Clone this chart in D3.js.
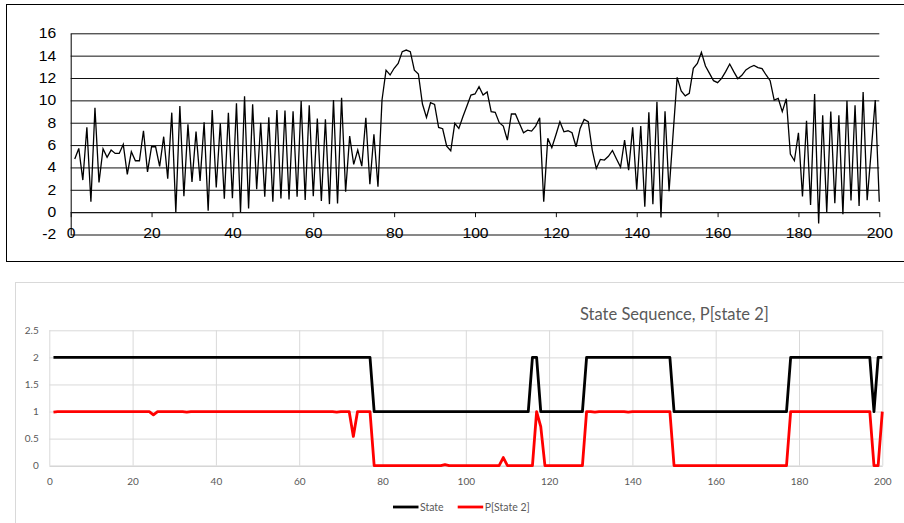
<!DOCTYPE html>
<html>
<head>
<meta charset="utf-8">
<script src="https://cdn.jsdelivr.net/npm/d3@7"></script>
<style>
  html, body { margin: 0; padding: 0; background: #fff; }
  svg { display: block; }
</style>
</head>
<body>
<svg id="chart" width="904" height="523"></svg>
<script>
// ---------- DATA ----------
const obsX = d3.range(1, 201); // time index 1..200
const observations = [
  4.75, 5.7, 2.87, 7.6, 0.93, 9.34, 2.66, 5.67, 4.9, 5.55,
  5.25, 5.25, 6.06, 3.37, 5.4, 4.6, 4.6, 7.28, 3.6, 5.85,
  5.85, 4.1, 6.75, 3.0, 8.9, 0.0, 9.5, 1.43, 7.85, 2.7,
  7.2, 2.8, 8.03, 0.12, 9.13, 2.2, 7.94, 1.2, 8.9, 1.25,
  9.73, 0.0, 10.36, 0.33, 9.64, 2.06, 8.0, 1.37, 8.48, 0.93,
  9.13, 1.22, 9.1, 1.13, 9.02, 1.37, 9.95, 1.1, 9.56, 1.43,
  8.37, 1.0, 8.3, 0.72, 10.03, 0.78, 10.24, 1.82, 6.8, 4.27,
  5.55, 4.12, 8.45, 2.5, 6.96, 2.27, 10.03, 12.7, 12.27, 12.87,
  13.31, 14.36, 14.5, 14.36, 12.7, 12.36, 9.67, 8.48, 9.79, 9.64,
  7.58, 7.46, 5.91, 5.49, 7.94, 7.49, 8.54, 9.49, 10.48, 10.57,
  11.22, 10.48, 10.75, 8.99, 8.93, 8.0, 7.7, 6.45, 8.78, 8.78,
  7.94, 7.1, 7.34, 7.25, 7.7, 8.45, 0.93, 6.6, 5.76, 6.9,
  8.09, 7.19, 7.28, 7.1, 5.85, 7.49, 8.3, 8.09, 5.55, 3.91,
  4.72, 4.66, 5.0, 5.52, 4.76, 4.03, 6.45, 3.76, 7.58, 2.0,
  7.7, 0.48, 8.94, 0.7, 9.88, -0.48, 9.02, 1.88, 7.0, 12.06,
  10.85, 10.4, 10.63, 12.87, 13.31, 14.3, 13.07, 12.42, 11.76, 11.58,
  11.97, 12.57, 13.25, 12.57, 11.94, 12.24, 12.72, 12.96, 13.13, 12.93,
  12.84, 12.27, 11.76, 10.03, 10.18, 8.99, 10.15, 5.19, 4.6, 7.1,
  1.4, 8.18, 0.65, 10.57, -1.01, 8.67, 0.0, 9.0, 0.8, 8.67,
  -0.18, 9.97, 1.04, 9.57, 0.55, 10.75, 1.07, 5.5, 10.03, 0.93
];
const topXTicks = [0, 20, 40, 60, 80, 100, 120, 140, 160, 180, 200];
const topYTicks = [-2, 0, 2, 4, 6, 8, 10, 12, 14, 16];
const topYLabels = ["-2", "0", "2", "4", "6", "8", "10", "12", "14", "16"];

const stateSeq = [
  2, 2, 2, 2, 2, 2, 2, 2, 2, 2,
  2, 2, 2, 2, 2, 2, 2, 2, 2, 2,
  2, 2, 2, 2, 2, 2, 2, 2, 2, 2,
  2, 2, 2, 2, 2, 2, 2, 2, 2, 2,
  2, 2, 2, 2, 2, 2, 2, 2, 2, 2,
  2, 2, 2, 2, 2, 2, 2, 2, 2, 2,
  2, 2, 2, 2, 2, 2, 2, 2, 2, 2,
  2, 2, 2, 2, 2, 2, 2, 1, 1, 1,
  1, 1, 1, 1, 1, 1, 1, 1, 1, 1,
  1, 1, 1, 1, 1, 1, 1, 1, 1, 1,
  1, 1, 1, 1, 1, 1, 1, 1, 1, 1,
  1, 1, 1, 1, 1, 2, 2, 1, 1, 1,
  1, 1, 1, 1, 1, 1, 1, 1, 2, 2,
  2, 2, 2, 2, 2, 2, 2, 2, 2, 2,
  2, 2, 2, 2, 2, 2, 2, 2, 2, 1,
  1, 1, 1, 1, 1, 1, 1, 1, 1, 1,
  1, 1, 1, 1, 1, 1, 1, 1, 1, 1,
  1, 1, 1, 1, 1, 1, 1, 2, 2, 2,
  2, 2, 2, 2, 2, 2, 2, 2, 2, 2,
  2, 2, 2, 2, 2, 2, 2, 1, 2, 2
];
const pState2 = [
  0.99, 1, 1, 1, 1, 1, 1, 1, 1, 1,
  1, 1, 1, 1, 1, 1, 1, 1, 1, 1,
  1, 1, 1, 1, 0.94, 1, 1, 1, 1, 1,
  1, 1, 0.99, 1, 1, 1, 1, 1, 1, 1,
  1, 1, 1, 1, 1, 1, 1, 1, 1, 1,
  1, 1, 1, 1, 1, 1, 1, 1, 1, 1,
  1, 1, 1, 1, 1, 1, 1, 1, 0.99, 1,
  1, 1, 0.54, 1, 1, 1, 1, 0, 0, 0,
  0, 0, 0, 0, 0, 0, 0, 0, 0, 0,
  0, 0, 0, 0, 0.02, 0, 0, 0, 0, 0,
  0, 0, 0, 0, 0, 0, 0, 0, 0.15, 0,
  0, 0, 0, 0, 0, 0, 1, 0.72, 0, 0,
  0, 0, 0, 0, 0, 0, 0, 0, 1, 1,
  0.99, 1, 1, 1, 1, 1, 1, 1, 0.99, 1,
  1, 1, 1, 1, 1, 1, 1, 1, 1, 0,
  0, 0, 0, 0, 0, 0, 0, 0, 0, 0,
  0, 0, 0, 0, 0, 0, 0, 0, 0, 0,
  0, 0, 0, 0, 0, 0, 0, 1, 1, 1,
  1, 1, 1, 1, 1, 1, 1, 1, 1, 1,
  1, 1, 1, 1, 1, 1, 1, 0, 0, 1
];
const botXTicks = [0, 20, 40, 60, 80, 100, 120, 140, 160, 180, 200];
const botYTicks = [0, 0.5, 1, 1.5, 2, 2.5];
const botYLabels = ["0", "0.5", "1", "1.5", "2", "2.5"];
const seriesNames = ["State", "P[State 2]"];
const seriesColors = ["#000000", "#ff0000"];
const chartTitle = "State Sequence, P[state 2]";

// ---------- DRAW ----------
const svg = d3.select("#chart");
svg.append("rect").attr("width", 904).attr("height", 523).attr("fill", "#fff");

// ===== Top chart =====
svg.append("rect")
  .attr("x", 6.5).attr("y", 4.5).attr("width", 920).attr("height", 257)
  .attr("fill", "none").attr("stroke", "#000").attr("stroke-width", 1);

const xT = d3.scaleLinear().domain([0, 200]).range([70.7, 879.3]);
const yT = d3.scaleLinear().domain([-2, 16]).range([234.5, 33.3]);
const topFont = "'Liberation Sans', Arial, sans-serif";

// y axis with gridlines
svg.append("g")
  .attr("transform", `translate(${xT(0)},0)`)
  .call(d3.axisLeft(yT).tickValues(topYTicks).tickSize(-(xT(200) - xT(0))).tickSizeOuter(0).tickPadding(14.5)
    .tickFormat((d, i) => topYLabels[i]))
  .call(g => g.select(".domain").attr("stroke", "#000").attr("stroke-width", 1))
  .call(g => g.selectAll(".tick line").attr("stroke", "#111").attr("stroke-width", 1))
  .call(g => g.selectAll("text")
    .attr("fill", "#000").attr("font-family", topFont).attr("font-size", 14)
    .attr("x", 0).attr("transform", "translate(-14.5,0) scale(1.12,1)"));

// x axis at y=0
svg.append("g")
  .attr("transform", `translate(0,${yT(0)})`)
  .call(d3.axisBottom(xT).tickValues(topXTicks).tickSize(5).tickSizeOuter(0).tickPadding(10.6).tickFormat(d => String(d)))
  .call(g => g.select(".domain").attr("stroke", "#111"))
  .call(g => g.selectAll(".tick line").attr("stroke", "#111"))
  .call(g => g.selectAll("text")
    .attr("fill", "#000").attr("font-family", topFont).attr("font-size", 14)
    .each(function() {
      const t = d3.select(this);
      const y = +t.attr("y");
      t.attr("y", 0).attr("transform", `translate(0,${y}) scale(1.12,1)`);
    }));

svg.append("path")
  .datum(observations)
  .attr("fill", "none")
  .attr("stroke", "#000")
  .attr("stroke-width", 1.3)
  .attr("stroke-linejoin", "miter")
  .attr("d", d3.line().x((d, i) => xT(obsX[i])).y(d => yT(d)));

// ===== Bottom chart =====
svg.append("rect")
  .attr("x", 15.5).attr("y", 282.5).attr("width", 920).attr("height", 300)
  .attr("fill", "#fff").attr("stroke", "#d9d9d9").attr("stroke-width", 1);

const xB = d3.scaleLinear().domain([0, 200]).range([49.3, 882.3]);
const yB = d3.scaleLinear().domain([0, 2.5]).range([465.7, 330.3]);
const botFont = "Lato, 'Open Sans', sans-serif";
const gray = "#595959";

svg.append("g")
  .attr("transform", `translate(${xB(0)},0)`)
  .call(d3.axisLeft(yB).tickValues(botYTicks).tickSize(-(xB(200) - xB(0))).tickSizeOuter(0).tickPadding(10.6)
    .tickFormat((d, i) => botYLabels[i]))
  .call(g => g.select(".domain").remove())
  .call(g => g.selectAll(".tick line").attr("stroke", "#d9d9d9"))
  .call(g => g.selectAll("text").attr("fill", gray).attr("font-family", botFont).attr("font-size", 10));

svg.append("g")
  .attr("transform", `translate(0,${yB(0)})`)
  .call(d3.axisBottom(xB).tickValues(botXTicks).tickSize(-(yB(0) - yB(2.5))).tickSizeOuter(0).tickPadding(12.2)
    .tickFormat(d => String(d)))
  .call(g => g.select(".domain").attr("stroke", "#d0d0d0"))
  .call(g => g.selectAll(".tick line").attr("stroke", "#d9d9d9"))
  .call(g => g.selectAll("text").attr("fill", gray).attr("font-family", botFont).attr("font-size", 10));

const lineB = d3.line().x((d, i) => xB(obsX[i])).y(d => yB(d));
[stateSeq, pState2].forEach((s, k) => {
  svg.append("path")
    .datum(s)
    .attr("fill", "none")
    .attr("stroke", seriesColors[k])
    .attr("stroke-width", 2.8)
    .attr("stroke-linejoin", "round")
    .attr("d", lineB);
});

// Title
svg.append("text")
  .attr("x", 580).attr("y", 320)
  .attr("fill", gray).attr("font-family", botFont).attr("font-size", 16.5)
  .text(chartTitle);

// Legend
const legendX = [393, 457.7];
const leg = svg.append("g").attr("transform", "translate(0,507)");
seriesNames.forEach((name, k) => {
  leg.append("line")
    .attr("x1", legendX[k]).attr("x2", legendX[k] + 25.5)
    .attr("y1", 0).attr("y2", 0)
    .attr("stroke", seriesColors[k]).attr("stroke-width", 2.8);
  leg.append("text")
    .attr("x", legendX[k] + 27).attr("y", 3.6)
    .attr("fill", gray).attr("font-family", botFont).attr("font-size", 10.5)
    .text(name);
});
</script>
</body>
</html>
